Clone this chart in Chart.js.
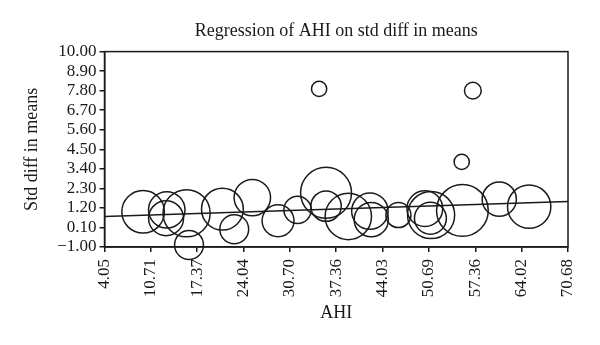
<!DOCTYPE html>
<html>
<head>
<meta charset="utf-8">
<script src="https://cdn.jsdelivr.net/npm/chart.js@4"></script>
<style>
  html, body { margin: 0; padding: 0; background: #fff; }
  #wrap { width: 600px; height: 345px; }
</style>
</head>
<body>
<div id="wrap"><canvas id="chart" width="600" height="345"></canvas></div>
<script>
// study points: AHI (x), std diff in means (y), relative weight (bubble size)
const ahi = [9.6, 13.0, 12.9, 15.85, 16.2, 21.0, 22.7, 25.3, 29.0, 31.8, 34.9, 35.9, 35.9, 39.1, 42.2, 42.4, 46.3, 50.1, 51.0, 50.9, 55.5, 55.4, 57.0, 60.8, 65.1];
const smd = [0.98, 1.09, 0.62, 0.90, -0.89, 1.13, 0.0, 1.78, 0.48, 1.09, 7.9, 2.05, 1.3, 0.72, 1.02, 0.54, 0.80, 1.16, 0.80, 0.62, 1.06, 3.79, 7.8, 1.69, 1.27];
const weight = [56, 48, 46, 62, 38, 55, 38, 48, 42, 36, 20, 67, 40, 61, 48, 45, 33, 47, 62, 42, 68, 20, 22, 45, 57];

// regression line end points
const regX = [4.05, 70.68];
const regY = [0.71, 1.56];

const xTicks = [4.05, 10.71, 17.37, 24.04, 30.70, 37.36, 44.03, 50.69, 57.36, 64.02, 70.68];
const yTicks = [-1.00, 0.10, 1.20, 2.30, 3.40, 4.50, 5.60, 6.70, 7.80, 8.90, 10.00];

const SERIF = "'Liberation Serif', 'DejaVu Serif', serif";
const INK = "#1a1a1a";
const sizeScale = 0.38;

const frame = {
  id: "frame",
  afterDatasetsDraw(chart) {
    const a = chart.chartArea;
    const ctx = chart.ctx;
    ctx.save();
    ctx.strokeStyle = INK;
    ctx.lineWidth = 1.5;
    ctx.strokeRect(a.left, a.top, a.right - a.left, a.bottom - a.top);
    ctx.restore();
  }
};

new Chart(document.getElementById("chart"), {
  data: {
    datasets: [
      {
        type: "bubble",
        data: ahi.map((x, i) => ({ x, y: smd[i], r: weight[i] * sizeScale })),
        backgroundColor: "rgba(0,0,0,0)",
        borderColor: INK,
        borderWidth: 1.5,
        clip: false
      },
      {
        type: "line",
        data: regX.map((x, i) => ({ x, y: regY[i] })),
        borderColor: INK,
        borderWidth: 1.5,
        pointRadius: 0,
        fill: false
      }
    ]
  },
  options: {
    responsive: false,
    animation: false,
    layout: { padding: { top: 0, right: 32, bottom: 19, left: 0 } },
    plugins: {
      legend: { display: false },
      tooltip: { enabled: false },
      title: {
        display: true,
        fullSize: false,
        text: "Regression of AHI on std diff in means",
        color: INK,
        font: { family: SERIF, size: 18, weight: "normal" },
        padding: { top: 20, bottom: 10 }
      }
    },
    scales: {
      x: {
        type: "linear",
        min: 4.05,
        max: 70.68,
        afterBuildTicks: (s) => { s.ticks = xTicks.map((v) => ({ value: v })); },
        afterFit: (s) => { s.height = 79; },
        ticks: {
          autoSkip: false,
          minRotation: 90,
          maxRotation: 90,
          color: INK,
          padding: 7,
          font: { family: SERIF, size: 17 },
          callback: (v) => v.toFixed(2)
        },
        grid: { drawOnChartArea: false, tickLength: 5, color: INK, lineWidth: 1.5 },
        border: { color: INK, width: 1.5 },
        title: {
          display: true,
          text: "AHI",
          color: INK,
          font: { family: SERIF, size: 18 },
          padding: { top: 0, bottom: 2 }
        }
      },
      y: {
        type: "linear",
        min: -1,
        max: 10,
        afterBuildTicks: (s) => { s.ticks = yTicks.map((v) => ({ value: v })); },
        afterFit: (s) => { s.width = 104.5; },
        ticks: {
          autoSkip: false,
          color: INK,
          padding: 3,
          font: { family: SERIF, size: 17 },
          callback: (v) => (v < 0 ? "\u2212" + Math.abs(v).toFixed(2) : v.toFixed(2))
        },
        grid: { drawOnChartArea: false, tickLength: 5, color: INK, lineWidth: 1.5 },
        border: { color: INK, width: 1.5 },
        title: {
          display: true,
          text: "Std diff in means",
          color: INK,
          font: { family: SERIF, size: 18 },
          padding: { top: 21, bottom: 0 }
        }
      }
    }
  },
  plugins: [frame]
});
</script>
</body>
</html>
